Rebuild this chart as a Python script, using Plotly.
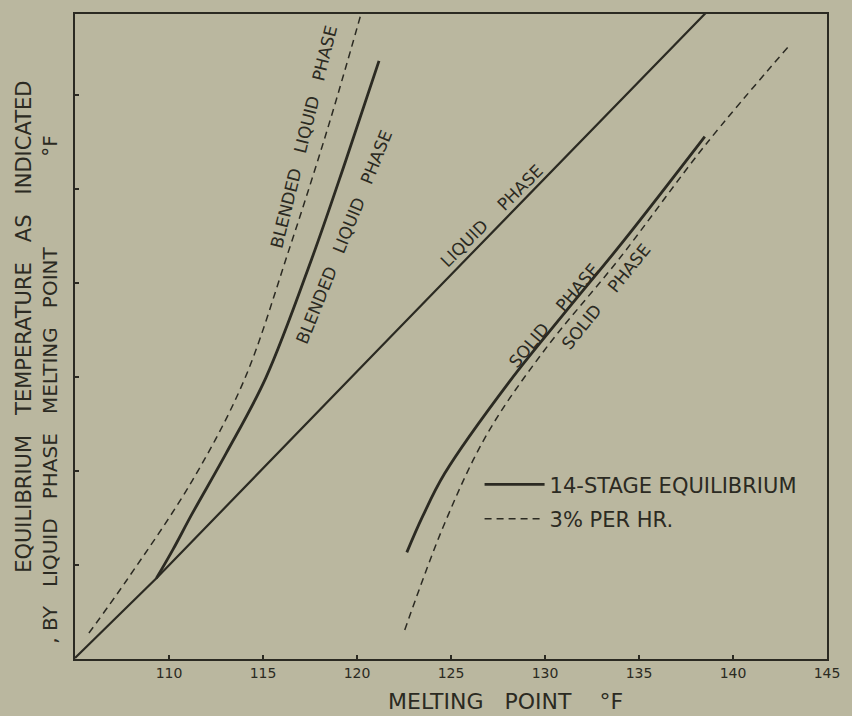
import plotly.graph_objects as go

# ---------------- data ----------------
liquid_x = [105.0, 109.33, 121.12, 130.10, 138.71]
liquid_y = [105.05, 109.29, 121.45, 130.70, 139.52]

blended_eq_x = [109.33, 110.2, 111.24, 113.03, 115.15, 117.6, 119.4, 121.17]
blended_eq_y = [109.29, 110.8, 112.74, 115.92, 119.95, 126.3, 131.5, 136.81]

blended_rate_x = [105.74, 107.75, 111.24, 113.98, 116.36, 118.47, 120.17]
blended_rate_y = [106.38, 109.19, 114.49, 119.79, 126.69, 133.31, 139.15]

solid_eq_x = [122.65, 123.49, 124.66, 128.14, 131.0, 134.17, 138.50]
solid_eq_y = [110.67, 112.58, 114.86, 119.79, 123.35, 127.22, 132.78]

solid_rate_x = [122.54, 124.66, 126.93, 129.94, 133.96, 138.55, 142.94]
solid_rate_y = [106.54, 112.21, 116.98, 121.38, 126.3, 132.36, 137.56]

x_ticks = [110, 115, 120, 125, 130, 135, 140, 145]
y_ticks = [110, 115, 120, 125, 130, 135]

legend_names = ["14-STAGE EQUILIBRIUM", "3% PER HR."]

NB = "\u00a0"
curve_labels = [
    # text, x, y, angle
    ("BLENDED" + NB * 3 + "LIQUID" + NB * 3 + "PHASE", 117.15, 132.78, -76),
    ("BLENDED" + NB * 3 + "LIQUID" + NB * 3 + "PHASE", 119.32, 127.43, -68),
    ("LIQUID" + NB * 4 + "PHASE", 127.17, 128.54, -45),
    ("SOLID" + NB * 4 + "PHASE", 130.50, 123.29, -50),
    ("SOLID" + NB * 4 + "PHASE", 133.27, 124.30, -51),
]

# ---------------- styling ----------------
BG = "#bab79f"
INK = "#2b2a22"
FONT = "DejaVu Sans"

fig = go.Figure()

fig.add_trace(go.Scatter(x=liquid_x, y=liquid_y, mode="lines",
                         line=dict(color=INK, width=2.2),
                         showlegend=False, hoverinfo="skip"))
fig.add_trace(go.Scatter(x=blended_eq_x, y=blended_eq_y, mode="lines",
                         line=dict(color=INK, width=2.8, shape="spline"),
                         name=legend_names[0], legendgroup="eq",
                         showlegend=True, hoverinfo="skip"))
fig.add_trace(go.Scatter(x=solid_eq_x, y=solid_eq_y, mode="lines",
                         line=dict(color=INK, width=2.8, shape="spline"),
                         legendgroup="eq", showlegend=False, hoverinfo="skip"))
fig.add_trace(go.Scatter(x=blended_rate_x, y=blended_rate_y, mode="lines",
                         line=dict(color=INK, width=1.5, dash="7px,5px", shape="spline"),
                         name=legend_names[1], legendgroup="rate",
                         showlegend=True, hoverinfo="skip"))
fig.add_trace(go.Scatter(x=solid_rate_x, y=solid_rate_y, mode="lines",
                         line=dict(color=INK, width=1.5, dash="7px,5px", shape="spline"),
                         legendgroup="rate", showlegend=False, hoverinfo="skip"))

annotations = []
for text, ax, ay, ang in curve_labels:
    annotations.append(dict(x=ax, y=ay, xref="x", yref="y", text=text,
                            textangle=ang, showarrow=False,
                            xanchor="center", yanchor="middle",
                            font=dict(family=FONT, size=17, color=INK)))

# axis titles
annotations.append(dict(xref="paper", yref="paper", x=0.572, y=-0.0665,
                        text="MELTING" + NB * 3 + "POINT" + NB * 4 + "°F",
                        showarrow=False, xanchor="center", yanchor="middle",
                        font=dict(family=FONT, size=22, color=INK)))
annotations.append(dict(xref="paper", yref="paper", x=-0.0687, y=0.5155,
                        text="EQUILIBRIUM" + NB * 3 + "TEMPERATURE" + NB * 3 + "AS" + NB * 3 + "INDICATED",
                        textangle=-90, showarrow=False, xanchor="center", yanchor="middle",
                        font=dict(family=FONT, size=21, color=INK)))
annotations.append(dict(xref="paper", yref="paper", x=-0.0343, y=0.331,
                        text="," + NB + "BY" + NB * 3 + "LIQUID" + NB * 3 + "PHASE" + NB * 3 + "MELTING" + NB * 3 + "POINT",
                        textangle=-90, showarrow=False, xanchor="center", yanchor="middle",
                        font=dict(family=FONT, size=20, color=INK)))
annotations.append(dict(xref="paper", yref="paper", x=-0.0343, y=0.796,
                        text="°F", textangle=-90, showarrow=False,
                        xanchor="center", yanchor="middle",
                        font=dict(family=FONT, size=20, color=INK)))

axis_common = dict(showgrid=False, zeroline=False, showline=True, mirror=True,
                   linecolor=INK, linewidth=2, ticks="inside", ticklen=4,
                   tickwidth=1.5, tickcolor=INK)

fig.update_layout(
    width=852, height=716,
    margin=dict(l=75, r=20, t=12, b=57),
    paper_bgcolor=BG, plot_bgcolor=BG,
    font=dict(family=FONT, color=INK),
    xaxis=dict(range=[105, 145], tickvals=x_ticks,
               ticktext=[str(v) for v in x_ticks],
               tickfont=dict(family=FONT, size=14, color=INK), **axis_common),
    yaxis=dict(range=[105, 139.3], tickvals=y_ticks, showticklabels=False,
               **axis_common),
    legend=dict(x=0.538, y=0.302, xanchor="left", yanchor="top",
                bgcolor="rgba(0,0,0,0)", borderwidth=0,
                font=dict(family=FONT, size=21, color=INK),
                traceorder="grouped", tracegroupgap=4, itemwidth=60),
    annotations=annotations,
)

fig.write_html("out.html")
